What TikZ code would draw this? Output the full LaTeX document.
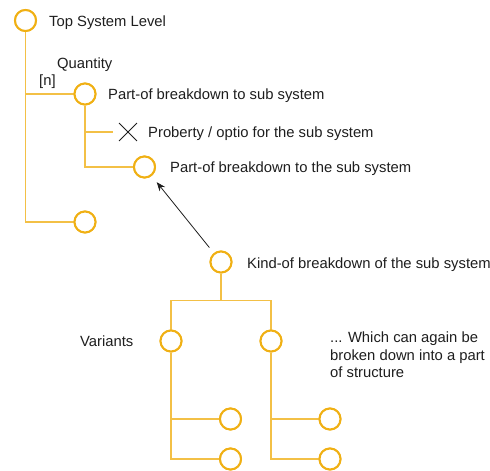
\documentclass[tikz,border=0pt]{standalone}
\usepackage{fontspec}
\setmainfont{Liberation Sans}
\usetikzlibrary{shapes.misc,arrows.meta}
\definecolor{ring}{RGB}{240,176,20}
\definecolor{wire}{RGB}{243,192,70}
\definecolor{ink}{RGB}{30,30,30}
\tikzset{
  ringnode/.style={circle,draw=ring,line width=2pt,fill=white,minimum size=21pt,inner sep=0pt},
  wireline/.style={draw=wire,line width=1.4pt},
  lbl/.style={anchor=base west,inner sep=0pt,font=\fontsize{14.8}{18}\selectfont,text=ink},
  crossnode/.style={cross out,draw=ink,line width=0.9pt,minimum size=17pt,inner sep=0pt},
  pointer/.style={draw=ink,line width=0.8pt,-{Stealth[length=9pt,width=7pt]}}
}
\begin{document}
\begin{tikzpicture}[x=1pt,y=-1pt]
\useasboundingbox (0,0) rectangle (490,471);
% circles
\node[ringnode] (top) at (25.5,20.5) {};
\node[ringnode] (c2) at (85,94) {};
\node[ringnode] (c3) at (144.5,167) {};
\node[ringnode] (c4) at (85,222) {};
\node[ringnode] (kind) at (221,262) {};
\node[ringnode] (v1) at (171,341) {};
\node[ringnode] (v2) at (271,341) {};
\node[ringnode] (v1a) at (230.5,419) {};
\node[ringnode] (v1b) at (230.5,459) {};
\node[ringnode] (v2a) at (330,419) {};
\node[ringnode] (v2b) at (330,459) {};
\node[crossnode] (xc) at (128,132) {};
\coordinate (j) at (221,300.5);
% connectors
\path[wireline] (top.south) |- (c2.west);
\path[wireline] (top.south) |- (c4.west);
\path[wireline] (c2.south) |- (c3.west);
\path[wireline] (c2.south |- xc) -- ([xshift=-6pt]xc.west);
\path[wireline] (kind.south) -- (j);
\path[wireline] (v1.north) |- (j) -| (v2.north);
\path[wireline] (v1.south) |- (v1a.west);
\path[wireline] (v1.south) |- (v1b.west);
\path[wireline] (v2.south) |- (v2a.west);
\path[wireline] (v2.south) |- (v2b.west);
\draw[pointer,shorten <=7pt,shorten >=8pt] (kind) -- (c3);
% redraw rings over lines
\foreach \n in {top,c2,c3,c4,kind,v1,v2,v1a,v1b,v2a,v2b}{
  \draw[ring,line width=2pt,fill=white] (\n) circle (10.5pt);
}
% labels
\node[lbl] (tTop) at (49,26.5) {Top System Level};
\node[lbl] (tQ) at (57,68.5) {Quantity};
\node[lbl] (tN) at (39,85.5) {[n]};
\node[lbl] (tC2) at (108,99.5) {Part-of breakdown to sub system};
\node[lbl] (tX) at (148,137.5) {Proberty / optio for the sub system};
\node[lbl] (tC3) at (170,172.5) {Part-of breakdown to the sub system};
\node[lbl] (tKind) at (247,268.5) {Kind-of breakdown of the sub system};
\node[lbl] (tVar) at (80,346.5) {Variants};
\node[lbl] (tW1) at (330,342.5) {... Which can again be};
\node[lbl] (tW2) at (330,360) {broken down into a part};
\node[lbl] (tW3) at (330,377.5) {of structure};
\end{tikzpicture}
\end{document}
